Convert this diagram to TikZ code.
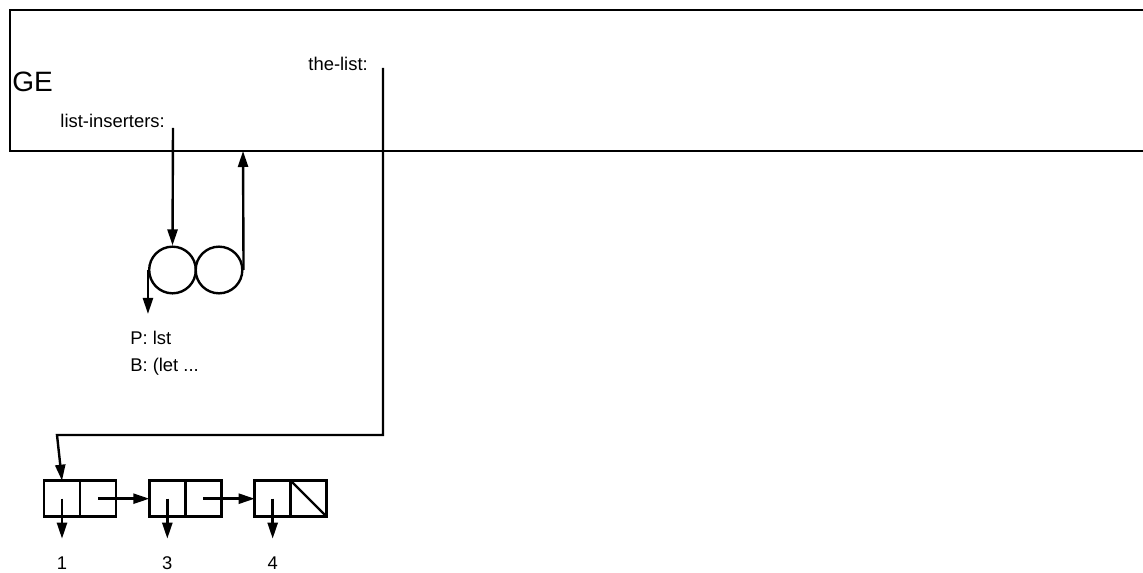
\documentclass[tikz,border=0pt]{standalone}
\usepackage{fontspec}
\setmainfont{Liberation Sans}
\usetikzlibrary{arrows.meta,positioning}
\tikzset{
 frameline/.style={line width=1.8pt},
 ptr/.style={line width=1.8pt,-{Triangle[length=12pt,width=7.5pt]}},
 half/.style={draw,line width=1.8pt,minimum size=27pt,inner sep=0pt,outer sep=0pt},
 proc/.style={draw,circle,line width=1.8pt,minimum size=35pt,inner sep=0pt},
 lbl/.style={font=\fontsize{13.8}{16}\selectfont,inner sep=0pt}
}
\begin{document}
\begin{tikzpicture}[x=0.75pt,y=-0.75pt]
\useasboundingbox (0,0) rectangle (1143,573);
% global environment
\draw[frameline] (1143,10) -- (10,10) -- (10,151) -- (1143,151);
\node[lbl,font=\fontsize{21}{24}\selectfont,anchor=base west] (ge) at (12,92) {GE};
\node[lbl,anchor=base east] (thelist) at (368,71) {the-list:};
\node[lbl,anchor=base east] (inserters) at (165,128) {list-inserters:};
\coordinate (tl) at (383,68);
\coordinate (li) at (173,128);
\coordinate (gebot) at (243,151);

% procedure object
\node[proc] (p1) at (172.5,270) {};
\node[proc] (p2) at (219,270) {};
\draw[ptr] (li) -- (p1.north);
\draw[ptr] (p2.east) -- (gebot);
\draw[ptr] (p1.west) -- ++(0,44);
\node[lbl,anchor=base west] (params) at (130,345) {P: lst};
\node[lbl,anchor=base west] (body) at (130,372) {B: (let ...};

% list structure
\node[half] (car1) at (62,498.7) {};
\node[half,right=0pt of car1] (cdr1) {};
\node[half,right=25pt of cdr1] (car2) {};
\node[half,right=0pt of car2] (cdr2) {};
\node[half,right=25pt of cdr2] (car3) {};
\node[half,right=0pt of car3] (cdr3) {};
\draw[ptr] (cdr1.center) -- (car2.west);
\draw[ptr] (cdr2.center) -- (car3.west);
\draw[line width=1.8pt] (cdr3.north west) -- (cdr3.south east);
\foreach \i/\v in {1/1,2/3,3/4}{
 \draw[ptr] (car\i.center) -- ++(0,40);
 \node[lbl] (val\i) at ([yshift=-48.5pt]car\i.center) {\v};
}
\draw[ptr] (tl) -- (383,435) -- (57,435) -- (car1.north);
\end{tikzpicture}
\end{document}
